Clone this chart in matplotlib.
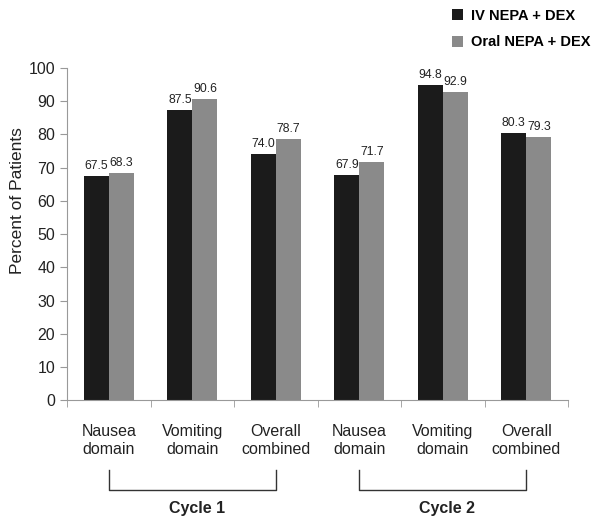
import matplotlib.pyplot as plt
import matplotlib.transforms as mtransforms
import numpy as np

plt.rcParams['font.family'] = ['Liberation Sans', 'DejaVu Sans']

categories = ['Nausea\ndomain', 'Vomiting\ndomain', 'Overall\ncombined',
              'Nausea\ndomain', 'Vomiting\ndomain', 'Overall\ncombined']
iv_vals = [67.5, 87.5, 74.0, 67.9, 94.8, 80.3]
oral_vals = [68.3, 90.6, 78.7, 71.7, 92.9, 79.3]
series_names = ['IV NEPA + DEX', 'Oral NEPA + DEX']
cycles = ['Cycle 1', 'Cycle 2']
cycle_span = [(0, 2), (3, 5)]

fig = plt.figure(figsize=(6.05, 5.19), dpi=100)
ax = fig.add_axes([0.111, 0.229, 0.828, 0.64])

x = np.arange(len(categories))
w = 0.3
b1 = ax.bar(x - w / 2, iv_vals, w, color='#1b1b1b', label=series_names[0])
b2 = ax.bar(x + w / 2, oral_vals, w, color='#8a8a8a', label=series_names[1])

for bars, vals in [(b1, iv_vals), (b2, oral_vals)]:
    for r, v in zip(bars, vals):
        ax.text(r.get_x() + r.get_width() / 2, v + 1.2, '%.1f' % v,
                ha='center', va='bottom', fontsize=8.8, color='#222222')

ax.set_xlim(-0.5, 5.5)
ax.set_ylim(0, 100)
ax.set_yticks(range(0, 101, 10))
ax.set_ylabel('Percent of Patients', fontsize=12.5, color='#222222')
ax.yaxis.set_label_coords(-0.085, 0.6)

ax.set_xticks(x)
ax.set_xticklabels(categories, fontsize=11.5, color='#222222', linespacing=1.3)
ax.tick_params(axis='x', which='major', length=0, pad=17)
ax.set_xticks(np.arange(-0.5, 6, 1), minor=True)
ax.tick_params(axis='x', which='minor', length=5, color='#999999')
ax.tick_params(axis='y', length=5, color='#999999', labelsize=11.5, labelcolor='#222222')

for s in ['top', 'right']:
    ax.spines[s].set_visible(False)
for s in ['left', 'bottom']:
    ax.spines[s].set_color('#999999')

# brackets for cycles
trans = mtransforms.blended_transform_factory(ax.transData, ax.transAxes)
y_top, y_bot = -0.21, -0.271
for name, (a, b) in zip(cycles, cycle_span):
    ax.plot([a, a, b, b], [y_top, y_bot, y_bot, y_top], color='#333333', lw=1,
            transform=trans, clip_on=False)
    ax.text((a + b) / 2 + 0.05, -0.303, name, transform=trans, ha='center', va='top',
            fontsize=11.5, fontweight='bold', color='#222222')

leg = fig.legend(handles=[b1, b2], loc='upper left', bbox_to_anchor=(0.725, 1.008),
                 frameon=False, fontsize=10.5, handlelength=0.8, handleheight=0.8,
                 labelspacing=0.85, handletextpad=0.5)
for t in leg.get_texts():
    t.set_fontweight('bold')

fig.savefig('out.png', dpi=100)
